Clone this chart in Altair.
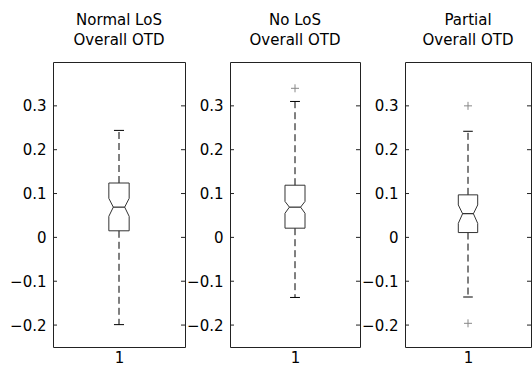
import altair as alt
import pandas as pd

# ---- data ----
PANEL_TITLES = [["Normal LoS", "Overall OTD"], ["No LoS", "Overall OTD"], ["Partial", "Overall OTD"]]
GROUP_POS = [1]
WHISKER_LOW = [-0.199, -0.137, -0.136]
Q1 = [0.015, 0.021, 0.011]
NOTCH_LOW = [0.048, 0.055, 0.032]
MEDIAN = [0.069, 0.069, 0.054]
NOTCH_HIGH = [0.089, 0.082, 0.074]
Q3 = [0.124, 0.119, 0.097]
WHISKER_HIGH = [0.244, 0.310, 0.242]
OUTLIERS = [[], [0.34], [0.30, -0.196]]
Y_TICKS = [-0.2, -0.1, 0.0, 0.1, 0.2, 0.3]
Y_DOMAIN = [-0.25, 0.4]
X_DOMAIN = [0.5, 1.5]

# ---- styling ----
FONT = "DejaVu Sans"
BOX_HALF = 0.077
NOTCH_HALF = 0.043
CAP_HALF = 0.038
PANEL_W = [132, 130, 126]
PANEL_H = 285
FRAME = "#222222"


def X(field):
    return alt.X(field, type="quantitative",
                 scale=alt.Scale(domain=X_DOMAIN, nice=False, zero=False),
                 axis=alt.Axis(values=GROUP_POS, format="d", title=None, labelPadding=3,
                               ticks=False, tickSize=0, domain=False, grid=False,
                               labelFont=FONT, labelFontSize=15, labelColor="#000000"))


def Y(field):
    return alt.Y(field, type="quantitative",
                 scale=alt.Scale(domain=Y_DOMAIN, nice=False, zero=False),
                 axis=alt.Axis(values=Y_TICKS, format=".1~f", title=None, labelPadding=7,
                               ticks=False, tickSize=0, domain=False, grid=False,
                               labelFont=FONT, labelFontSize=15, labelColor="#000000"))


def panel(i):
    c = GROUP_POS[0]
    w = PANEL_W[i]
    outline = pd.DataFrame({
        "order": list(range(11)),
        "x": [c - BOX_HALF, c + BOX_HALF, c + BOX_HALF, c + NOTCH_HALF, c + BOX_HALF, c + BOX_HALF,
              c - BOX_HALF, c - BOX_HALF, c - NOTCH_HALF, c - BOX_HALF, c - BOX_HALF],
        "y": [Q3[i], Q3[i], NOTCH_HIGH[i], MEDIAN[i], NOTCH_LOW[i], Q1[i],
              Q1[i], NOTCH_LOW[i], MEDIAN[i], NOTCH_HIGH[i], Q3[i]],
    })
    stats = pd.DataFrame({
        "ml": [c - NOTCH_HALF], "mr": [c + NOTCH_HALF], "med": [MEDIAN[i]],
    })
    whisk = pd.DataFrame({"c": [c, c], "a": [Q3[i], Q1[i]], "b": [WHISKER_HIGH[i], WHISKER_LOW[i]]})
    caps = pd.DataFrame({"cl": [c - CAP_HALF] * 2, "cr": [c + CAP_HALF] * 2,
                         "v": [WHISKER_HIGH[i], WHISKER_LOW[i]]})
    outl = pd.DataFrame({"c": [c] * len(OUTLIERS[i]), "v": OUTLIERS[i]})
    ticks = pd.DataFrame({"t": Y_TICKS})

    box = alt.Chart(outline).mark_line(color="#333333", strokeWidth=1).encode(
        x=X("x"), y=Y("y"), order="order:Q")
    med = alt.Chart(stats).mark_rule(color="#000000", strokeWidth=1).encode(
        x=X("ml"), x2="mr", y=Y("med"))
    wl = alt.Chart(whisk).mark_rule(color="#000000", strokeWidth=1, strokeDash=[7, 4]).encode(
        x=X("c"), y=Y("a"), y2="b")
    cp = alt.Chart(caps).mark_rule(color="#000000", strokeWidth=1).encode(
        x=X("cl"), x2="cr", y=Y("v"))
    lt = alt.Chart(ticks).mark_rule(color=FRAME, strokeWidth=1).encode(
        y=Y("t"), x=alt.value(0), x2=alt.value(4))
    rt = alt.Chart(ticks).mark_rule(color=FRAME, strokeWidth=1).encode(
        y=Y("t"), x=alt.value(w - 4), x2=alt.value(w))
    layers = [lt, rt, wl, cp, box, med]
    if len(outl):
        op = alt.Chart(outl).mark_point(
            shape="M-1,0L1,0M0,-1L0,1", filled=False, color="#888888", size=64, strokeWidth=1,
            opacity=1
        ).encode(x=X("c"), y=Y("v"))
        layers.append(op)
    return alt.layer(*layers).properties(
        width=w, height=PANEL_H,
        title=alt.TitleParams(PANEL_TITLES[i], anchor="middle", baseline="bottom", offset=-1,
                              lineHeight=20, font=FONT, fontSize=15, fontWeight="normal", color="#000000"),
    )


chart = alt.hconcat(*[panel(i) for i in range(3)], spacing=45, bounds="flush").properties(
    padding={"left": 9, "top": 12, "right": 0, "bottom": 0}, background="white"
).configure_view(
    stroke=FRAME, strokeWidth=1
)

chart.save("out.html", embed_options={"renderer": "svg", "actions": False})
